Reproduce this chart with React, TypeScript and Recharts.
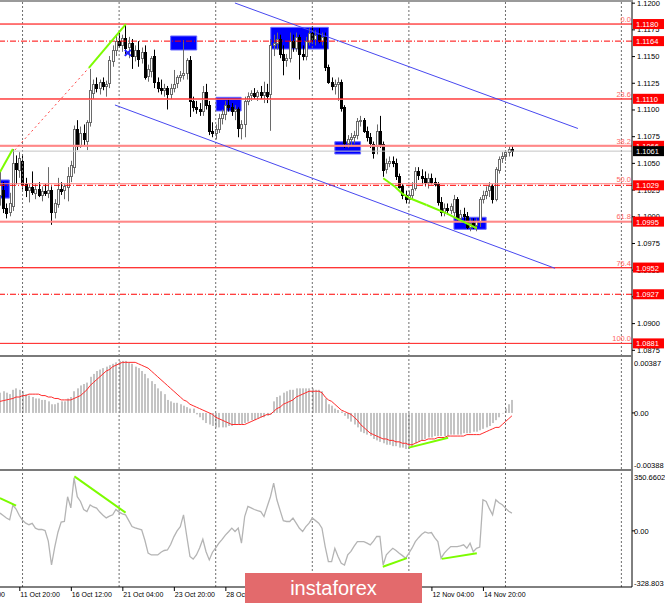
import React from 'react';
import { ComposedChart, Bar, Line, XAxis, YAxis, ReferenceLine, ReferenceArea, ReferenceDot } from 'recharts';

// ---------- price data (H4 candles) ----------
const opens = [
  1.1020,1.1025,1.1008,1.1004,1.1010,1.1050,1.1044,1.1052,1.1030,1.1024,
  1.1027,1.1022,1.1026,1.1020,1.1024,1.1022,1.1025,1.1004,1.1012,1.1026,
  1.1024,1.1028,1.1038,1.1046,1.1082,1.1066,1.1078,1.1070,1.1088,1.1116,
  1.1124,1.1120,1.1126,1.1122,1.1124,1.1146,1.1156,1.1164,1.1160,1.1167,
  1.1158,1.1162,1.1150,1.1156,1.1148,1.1154,1.1131,1.1136,1.1150,1.1126,
  1.1120,1.1118,1.1120,1.1114,1.1120,1.1124,1.1130,1.1132,1.1134,1.1146,
  1.1108,1.1102,1.1100,1.1098,1.1116,1.1104,1.1080,1.1078,1.1082,1.1092,
  1.1096,1.1104,1.1102,1.1098,1.1100,1.1082,1.1086,1.1108,1.1113,1.1115,
  1.1112,1.1116,1.1113,1.1116,1.1114,1.1160,1.1162,1.1166,1.1152,1.1146,
  1.1148,1.1164,1.1158,1.1168,1.1152,1.1150,1.1164,1.1172,1.1166,1.1170,
  1.1164,1.1168,1.1140,1.1126,1.1122,1.1124,1.1126,1.1102,1.1068,1.1072,
  1.1074,1.1076,1.1089,1.1090,1.1080,1.1074,1.1068,1.1066,1.1080,1.1068,
  1.1044,1.1050,1.1052,1.1050,1.1038,1.1028,1.1020,1.1016,1.1020,1.1026,
  1.1042,1.1038,1.1036,1.1032,1.1036,1.1032,1.1030,1.1013,1.1004,1.1008,
  1.1006,1.1004,1.1016,1.0998,1.1002,1.1000,1.0990,1.0994,1.0992,1.0994,
  1.1016,1.1020,1.1024,1.1028,1.1016,1.1044,1.1054,1.1056,1.1060,1.1063,
];
const highs = [
  1.1042,1.1032,1.1012,1.1022,1.1063,1.1057,1.1060,1.1058,1.1036,1.1030,
  1.1042,1.1030,1.1032,1.1028,1.1030,1.1046,1.1028,1.1016,1.1036,1.1032,
  1.1030,1.1046,1.1052,1.1085,1.1090,1.1084,1.1086,1.1090,1.1138,1.1128,
  1.1130,1.1128,1.1130,1.1127,1.1150,1.1160,1.1170,1.1172,1.1170,1.1180,
  1.1168,1.1166,1.1160,1.1164,1.1158,1.1160,1.1142,1.1150,1.1156,1.1130,
  1.1128,1.1124,1.1122,1.1124,1.1137,1.1132,1.1136,1.1165,1.1148,1.1150,
  1.1112,1.1108,1.1106,1.1122,1.1124,1.1108,1.1088,1.1086,1.1096,1.1100,
  1.1108,1.1110,1.1106,1.1104,1.1102,1.1090,1.1112,1.1116,1.1118,1.1120,
  1.1118,1.1122,1.1126,1.1124,1.1166,1.1170,1.1172,1.1170,1.1160,1.1152,
  1.1172,1.1170,1.1172,1.1170,1.1160,1.1168,1.1176,1.1178,1.1174,1.1176,
  1.1172,1.1172,1.1142,1.1130,1.1128,1.1130,1.1128,1.1104,1.1076,1.1078,
  1.1080,1.1092,1.1094,1.1092,1.1084,1.1078,1.1070,1.1086,1.1094,1.1070,
  1.1054,1.1056,1.1056,1.1054,1.1040,1.1030,1.1024,1.1024,1.1032,1.1046,
  1.1046,1.1044,1.1042,1.1040,1.1040,1.1036,1.1032,1.1018,1.1012,1.1012,
  1.1012,1.1020,1.1018,1.1006,1.1008,1.1004,1.0998,1.0998,1.0998,1.1018,
  1.1024,1.1028,1.1032,1.1030,1.1046,1.1056,1.1060,1.1062,1.1066,1.1066,
];
const lows = [
  1.1010,1.1003,1.0998,1.1000,1.1005,1.1030,1.1036,1.1025,1.1018,1.1013,
  1.1020,1.1016,1.1018,1.1014,1.1019,1.1017,1.0992,1.0998,1.1008,1.1020,
  1.1016,1.1014,1.1032,1.1040,1.1062,1.1064,1.1066,1.1062,1.1084,1.1110,
  1.1116,1.1114,1.1118,1.1112,1.1120,1.1140,1.1150,1.1158,1.1154,1.1152,
  1.1148,1.1138,1.1145,1.1140,1.1143,1.1128,1.1126,1.1130,1.1120,1.1116,
  1.1114,1.1112,1.1100,1.1110,1.1116,1.1120,1.1126,1.1128,1.1128,1.1093,
  1.1098,1.1096,1.1094,1.1094,1.1100,1.1076,1.1074,1.1072,1.1078,1.1086,
  1.1090,1.1098,1.1094,1.1090,1.1074,1.1072,1.1074,1.1104,1.1108,1.1110,
  1.1108,1.1110,1.1106,1.1106,1.1080,1.1150,1.1156,1.1148,1.1132,1.1140,
  1.1144,1.1154,1.1154,1.1128,1.1146,1.1146,1.1160,1.1162,1.1160,1.1162,
  1.1160,1.1136,1.1124,1.1118,1.1114,1.1108,1.1098,1.1064,1.1064,1.1066,
  1.1068,1.1072,1.1084,1.1078,1.1070,1.1064,1.1054,1.1058,1.1064,1.1037,
  1.1040,1.1046,1.1046,1.1034,1.1026,1.1016,1.1012,1.1012,1.1016,1.1024,
  1.1034,1.1030,1.1028,1.1026,1.1030,1.1028,1.1010,1.1000,1.1000,1.1002,
  1.1002,1.1000,1.0996,1.0994,1.0996,1.0988,1.0986,1.0988,1.0986,1.0990,
  1.1012,1.1016,1.1018,1.1012,1.1014,1.1040,1.1050,1.1052,1.1056,1.1056,
];
const closes = [
  1.1030,1.1008,1.1003,1.1012,1.1050,1.1044,1.1055,1.1030,1.1024,1.1027,
  1.1022,1.1026,1.1020,1.1024,1.1022,1.1025,1.1004,1.1012,1.1026,1.1024,
  1.1028,1.1038,1.1048,1.1082,1.1066,1.1078,1.1072,1.1088,1.1118,1.1124,
  1.1120,1.1126,1.1122,1.1124,1.1146,1.1156,1.1164,1.1160,1.1167,1.1158,
  1.1162,1.1150,1.1156,1.1148,1.1154,1.1131,1.1138,1.1148,1.1126,1.1120,
  1.1118,1.1120,1.1114,1.1120,1.1124,1.1130,1.1132,1.1134,1.1146,1.1108,
  1.1102,1.1100,1.1098,1.1116,1.1104,1.1080,1.1078,1.1082,1.1092,1.1096,
  1.1104,1.1102,1.1098,1.1100,1.1082,1.1086,1.1108,1.1113,1.1115,1.1112,
  1.1116,1.1113,1.1116,1.1112,1.1160,1.1162,1.1166,1.1152,1.1146,1.1148,
  1.1164,1.1158,1.1168,1.1152,1.1150,1.1164,1.1172,1.1166,1.1170,1.1164,
  1.1168,1.1140,1.1126,1.1122,1.1124,1.1126,1.1102,1.1068,1.1072,1.1074,
  1.1076,1.1089,1.1090,1.1080,1.1074,1.1068,1.1060,1.1080,1.1068,1.1044,
  1.1050,1.1052,1.1050,1.1038,1.1028,1.1020,1.1016,1.1020,1.1026,1.1042,
  1.1038,1.1036,1.1032,1.1036,1.1032,1.1030,1.1013,1.1004,1.1008,1.1006,
  1.1010,1.1016,1.0998,1.1002,1.1000,1.0990,1.0994,1.0992,1.0996,1.1016,
  1.1020,1.1024,1.1028,1.1016,1.1044,1.1054,1.1056,1.1060,1.1063,1.1061,
];

// ---------- MACD ----------
const macdMain = [
  0.0014,0.0015,0.0014,0.0013,0.0016,0.0017,0.0016,0.0015,0.0013,0.0012,
  0.0011,0.0010,0.0010,0.0009,0.0009,0.0008,0.0006,0.0006,0.0007,0.0008,
  0.0008,0.0010,0.0011,0.0015,0.0017,0.0019,0.0020,0.0021,0.0025,0.0027,
  0.0029,0.0030,0.0031,0.0032,0.0033,0.0034,0.0035,0.0036,0.0036,0.0036,
  0.0035,0.0034,0.0032,0.0031,0.0029,0.0027,0.0024,0.0022,0.0020,0.0017,
  0.0015,0.0013,0.0009,0.0008,0.0007,0.0007,0.0006,0.0005,0.0004,0.0003,
  0.0003,-0.0001,-0.0003,-0.0005,-0.0007,-0.0008,-0.0009,-0.0010,-0.0010,-0.0010,
  -0.0010,-0.0009,-0.0009,-0.0008,-0.0008,-0.0008,-0.0007,-0.0006,-0.0005,-0.0005,
  -0.0004,-0.0003,-0.0003,-0.0002,-0.0001,0.0008,0.0011,0.0012,0.0014,0.0015,
  0.0016,0.0016,0.0017,0.0017,0.0017,0.0017,0.0017,0.0017,0.0016,0.0016,
  0.0015,0.0010,0.0006,0.0005,0.0003,0.0002,0.0001,-0.0002,-0.0004,-0.0006,
  -0.0008,-0.0010,-0.0013,-0.0014,-0.0015,-0.0016,-0.0018,-0.0019,-0.0020,-0.0021,
  -0.0022,-0.0022,-0.0023,-0.0023,-0.0024,-0.0024,-0.0025,-0.0025,-0.0023,-0.0021,
  -0.0020,-0.0019,-0.0018,-0.0017,-0.0017,-0.0016,-0.0016,-0.0016,-0.0016,-0.0016,
  -0.0015,-0.0015,-0.0015,-0.0015,-0.0014,-0.0014,-0.0014,-0.0013,-0.0013,-0.0012,
  -0.0011,-0.0010,-0.0009,-0.0007,-0.0005,-0.0003,0.0000,0.0003,0.0006,0.0009,
];
const macdSignal = [
  0.0008,0.00085,0.0009,0.00095,0.0010,0.0011,0.0011,0.0012,0.0012,0.0013,
  0.0013,0.0013,0.0013,0.0012,0.0012,0.0011,0.0011,0.0010,0.0010,0.0009,
  0.0009,0.0009,0.0009,0.0010,0.0011,0.0012,0.0014,0.0016,0.0019,0.0021,
  0.0023,0.0025,0.0027,0.0029,0.0030,0.0032,0.0033,0.0034,0.0035,0.0035,
  0.0035,0.0035,0.0035,0.0034,0.0033,0.0032,0.0031,0.0029,0.0027,0.0025,
  0.0023,0.0021,0.0019,0.0017,0.0015,0.0013,0.0011,0.0009,0.0008,0.0006,
  0.0005,0.0004,0.0003,0.0002,0.0001,0.0000,-0.0001,-0.0003,-0.0004,-0.0005,
  -0.0006,-0.0007,-0.0008,-0.0008,-0.0008,-0.0008,-0.0008,-0.0007,-0.0006,-0.0005,
  -0.0004,-0.0003,-0.0002,-0.0001,-0.0001,0.0001,0.0003,0.0004,0.0006,0.0007,
  0.0008,0.0009,0.0011,0.0012,0.0013,0.0014,0.0015,0.0015,0.0015,0.0015,
  0.0014,0.0011,0.0009,0.0008,0.0006,0.0004,0.0002,0.0001,0.0000,-0.0001,
  -0.0003,-0.0005,-0.0008,-0.0010,-0.0012,-0.0014,-0.0015,-0.0016,-0.0017,-0.0018,
  -0.0018,-0.0019,-0.0019,-0.0020,-0.0020,-0.0021,-0.0021,-0.0022,-0.0022,-0.0021,
  -0.0020,-0.0019,-0.0019,-0.0018,-0.0018,-0.0018,-0.0017,-0.0017,-0.0017,-0.0016,
  -0.0016,-0.0016,-0.0016,-0.0016,-0.0016,-0.0015,-0.0015,-0.0015,-0.0015,-0.0015,
  -0.0014,-0.0013,-0.0012,-0.0011,-0.0010,-0.0010,-0.0008,-0.0006,-0.0004,-0.0002,
];

// ---------- CCI ----------
const cciValues = [
  104,90,75,65,150,128,90,62,45,36,
  44,16,8,9,2,-60,-200,-95,-8,52,
  55,200,135,310,200,172,125,113,152,140,
  133,110,92,76,86,94,125,110,100,94,
  60,25,18,12,6,-55,-130,-141,-141,-141,
  -125,-115,-112,-80,-35,0,25,94,-30,-150,
  -165,-141,-100,-49,-122,-170,-125,-100,-72,-50,
  -25,-5,16,-4,16,-72,84,143,135,125,
  118,113,84,143,200,280,182,120,60,55,
  55,75,45,15,-4,25,45,75,60,45,
  16,-92,-180,-180,-102,-150,-190,-200,-141,-120,
  -90,-63,-63,-63,-72,-82,-60,-33,-33,-200,
  -140,-120,-102,-115,-131,-145,-160,-131,-100,-63,
  -40,-20,-6,-13,-10,-40,-63,-160,-130,-110,
  -92,-92,-92,-88,-82,-102,-72,-122,-102,-95,
  182,172,130,94,182,165,153,133,115,104,
];

// ---------- axes / labels ----------
const timeTickBars = [-10, 6, 22, 38, 54, 70, 86, 102, 118, 134, 150];
const timeTickLabels = ['9 Oct 04:00', '11 Oct 20:00', '16 Oct 12:00', '21 Oct 04:00', '23 Oct 20:00', '28 Oct 12:00', '31 Oct 04:00', '4 Nov 20:00', '7 Nov 12:00', '12 Nov 04:00', '14 Nov 20:00'];
const gridBars = [7, 37, 67, 97, 127, 157, 193];
const priceTicks = [1.0875, 1.09, 1.0925, 1.095, 1.0975, 1.1, 1.1025, 1.105, 1.1075, 1.11, 1.1125, 1.115, 1.1175, 1.12];
const levelPrices = [1.1180, 1.1164, 1.1110, 1.1066, 1.1029, 1.0995, 1.0952, 1.0927, 1.0881];
const dashDotLevels = [1.1164, 1.1029, 1.0927];
const bidPrice = 1.1061;
const fibHigh = 1.1180;
const fibLow = 1.0881;
const fibRatios = [0, 23.6, 38.2, 50.0, 61.8, 76.4, 100.0];
const macdTickValues = [0.00387, 0, -0.00388];
const macdTickLabels = ['0.00387', '0.00', '-0.00388'];
const cciTickValues = [350.6602, 0, -328.803];
const cciTickLabels = ['350.6602', '0.00', '-328.803'];

// zones (bar index range, price range)
const zoneBars = [[0, 2.9], [53.0, 61.1], [67.1, 74.9], [84.1, 102.0], [104.0, 112.0], [141.0, 151.0]];
const zonePrices = [[1.1017, 1.1034], [1.11557, 1.11688], [1.10986, 1.11114], [1.11566, 1.11769], [1.10583, 1.10698], [1.09878, 1.09991]];
const crossMark = { bar: 39.7, price: 1.1153 };

// drawn lines as point lists (bar index, value)
const channelUpper = [{ x: 72.97, y: 1.11997 }, { x: 179.5, y: 1.10822 }];
const channelLower = [{ x: 35.7, y: 1.11042 }, { x: 172.4, y: 1.09513 }];
const fiboTrend = [{ x: 4.6, y: 1.1062 }, { x: 27.6, y: 1.1139 }];
const greenMain1 = [{ x: 0, y: 1.10415 }, { x: 4.0, y: 1.1063 }];
const greenMain2 = [{ x: 27.6, y: 1.1139 }, { x: 39.1, y: 1.1180 }];
const greenMain3 = [
  { x: 119.05, y: 1.10356 }, { x: 122.7, y: 1.10277 }, { x: 124.8, y: 1.10215 }, { x: 127.3, y: 1.10169 },
  { x: 132.5, y: 1.10106 }, { x: 138.7, y: 1.10028 }, { x: 142.9, y: 1.09965 }, { x: 148.1, y: 1.09888 },
];
const greenMacd = [{ x: 127, y: -0.0024 }, { x: 139.2, y: -0.00172 }];
const greenCci = [
  [{ x: 0, y: 192 }, { x: 5, y: 148 }],
  [{ x: 23.1, y: 319 }, { x: 39, y: 107 }],
  [{ x: 118.9, y: -210 }, { x: 126.4, y: -160 }],
  [{ x: 137.2, y: -164 }, { x: 148.1, y: -131 }],
];

const data = opens.map((o, i) => ({
  i, o, h: highs[i], l: lows[i], c: closes[i],
  hist: macdMain[i], sig: macdSignal[i], cci: cciValues[i],
}));

const FONT = '"Liberation Sans", Arial, sans-serif';
const X_DOMAIN: [number, number] = [0, 196.3];
const W = 665;
const GREEN = '#7cfc00';
const GRID = '#6e6e6e';

const Candle = (p: any) => {
  const { x, y, width, height, payload } = p;
  if (payload == null || y == null) return null;
  const { o, h, l, c } = payload;
  const px = Math.round(x + width / 2);
  const span = h - l;
  const ppu = span > 0 ? height / span : 0;
  const yO = y + (h - o) * ppu;
  const yC = y + (h - c) * ppu;
  const bull = c >= o;
  const top = Math.round(Math.min(yO, yC)) + 0.5;
  const bh = Math.max(1, Math.round(Math.abs(yC - yO)));
  const col = bull ? '#6a6a6a' : '#000';
  return (
    <g>
      <line x1={px + 0.5} x2={px + 0.5} y1={y} y2={y + height} stroke={col} strokeWidth={1} />
      <rect x={px - 0.5} y={top} width={2} height={bh} fill={bull ? '#fff' : '#000'} stroke={col} strokeWidth={1} />
    </g>
  );
};

const HistBar = (p: any) => {
  const { x, y, width, height } = p;
  if (y == null || height == null) return null;
  const px = Math.round(x + width / 2);
  const top = Math.min(y, y + height);
  return <rect x={px - 1} y={top} width={2} height={Math.max(0.5, Math.abs(height))} fill="#c4c4c4" />;
};

const PriceTick = (p: any) => {
  const { x, y, payload } = p;
  const v = payload.value;
  const isLevel = levelPrices.indexOf(v) >= 0;
  const isBid = v === bidPrice;
  if (isLevel || isBid) {
    return (
      <g>
        <rect x={x + 1} y={y - 5} width={31} height={10} fill={isBid ? '#000' : '#ff0000'} />
        <text x={x + 4} y={y + 3} fill="#fff" fontSize={7.5} fontFamily={FONT}>{v.toFixed(4)}</text>
      </g>
    );
  }
  return (
    <g>
      <line x1={x} x2={x + 3} y1={y + 0.5} y2={y + 0.5} stroke="#000" />
      <text x={x + 5} y={y + 3} fill="#000" fontSize={7.5} fontFamily={FONT}>{v.toFixed(4)}</text>
    </g>
  );
};

const makeSideTick = (values: number[], labels: string[]) => (p: any) => {
  const { x, y, payload } = p;
  const idx = values.indexOf(payload.value);
  const dy = idx === 0 ? 9 : idx === values.length - 1 ? -1 : 3;
  return (
    <g>
      {idx === 1 ? <line x1={x} x2={x + 3} y1={y} y2={y} stroke="#000" /> : null}
      <text x={x + 2} y={y + dy} fill="#000" fontSize={7.5} fontFamily={FONT}>{labels[idx]}</text>
    </g>
  );
};

const TimeTick = (p: any) => {
  const { x, y, payload } = p;
  const idx = timeTickBars.indexOf(payload.value);
  return (
    <g>
      <line x1={x + 0.5} x2={x + 0.5} y1={y} y2={y + 4} stroke="#000" />
      <text x={x + 1} y={y + 10} fill="#000" fontSize={7} fontFamily={FONT}>{timeTickLabels[idx]}</text>
    </g>
  );
};

const fibLabel = (text: string) => (p: any) => {
  const vb = p.viewBox || {};
  return (
    <text x={vb.x + vb.width - 1} y={vb.y - 2} textAnchor="end" fill="#ff6464" fontSize={7.5} fontFamily={FONT}>{text}</text>
  );
};

const segs = (pts: { x: number; y: number }[]) =>
  pts.slice(1).map((pt, k) => [pts[k], pt] as [{ x: number; y: number }, { x: number; y: number }]);

const gridLines = () =>
  gridBars.map((b) => (
    <ReferenceLine key={'g' + b} x={b} stroke={GRID} strokeDasharray="2 2" ifOverflow="visible" />
  ));

const levelStyle = (v: number) => {
  if (dashDotLevels.indexOf(v) >= 0) return { stroke: '#ff0000', width: 1, dash: '6 2 1 2' };
  if (v === 1.1066 || v === 1.0995) return { stroke: '#ff8888', width: 2, dash: undefined };
  return { stroke: '#ff3030', width: 1, dash: undefined };
};

export default function App() {
  return (
    <div style={{ position: 'absolute', left: 0, top: 0, width: W, height: 604, background: '#fff', overflow: 'hidden', fontFamily: FONT }}>
      {/* main price panel */}
      <div style={{ position: 'absolute', left: 0, top: 0 }}>
        <ComposedChart width={W} height={356} data={data} margin={{ top: 0, right: 0, bottom: 0, left: 0 }}>
          <XAxis type="number" dataKey="i" domain={X_DOMAIN} allowDataOverflow hide />
          <YAxis
            orientation="right" width={33} type="number" domain={[1.08692, 1.12025]} allowDataOverflow
            ticks={[...priceTicks, ...levelPrices, bidPrice]} interval={0}
            tick={<PriceTick />} tickLine={false} tickSize={0} tickMargin={0}
            axisLine={{ stroke: '#000' }}
          />
          {gridLines()}
          {zoneBars.map((zb, k) => (
            <ReferenceArea key={'z' + k} x1={zb[0]} x2={zb[1]} y1={zonePrices[k][0]} y2={zonePrices[k][1]}
              fill="#0000ff" fillOpacity={1} stroke="#6a6aff" strokeWidth={1} ifOverflow="visible" />
          ))}
          {fibRatios.map((r) => (
            <ReferenceLine key={'f' + r} y={fibHigh - (r / 100) * (fibHigh - fibLow)} stroke="#ff8080" strokeWidth={1}
              label={fibLabel(r.toFixed(1))} ifOverflow="visible" />
          ))}
          {levelPrices.map((v) => {
            const s = levelStyle(v);
            return <ReferenceLine key={'l' + v} y={v} stroke={s.stroke} strokeWidth={s.width} strokeDasharray={s.dash} ifOverflow="visible" />;
          })}
          <ReferenceLine y={bidPrice} stroke="#c4c4c4" strokeWidth={1} ifOverflow="visible" />
          <ReferenceLine segment={channelUpper} stroke="#4848f0" strokeWidth={1} ifOverflow="visible" />
          <ReferenceLine segment={channelLower} stroke="#4848f0" strokeWidth={1} ifOverflow="visible" />
          <ReferenceLine segment={fiboTrend} stroke="#ff4040" strokeWidth={1} strokeDasharray="2 3" ifOverflow="visible" />
          <ReferenceLine segment={greenMain1} stroke={GREEN} strokeWidth={2} ifOverflow="visible" />
          <ReferenceLine segment={greenMain2} stroke={GREEN} strokeWidth={2} ifOverflow="visible" />
          <Bar dataKey={(d: any) => [d.l, d.h]} barSize={3} shape={(p: any) => <Candle {...p} />} isAnimationActive={false} />
          {segs(greenMain3).map((s, k) => (
            <ReferenceLine key={'gm' + k} segment={s} stroke={GREEN} strokeWidth={2} ifOverflow="visible" />
          ))}
          <ReferenceDot x={crossMark.bar} y={crossMark.price} r={3} ifOverflow="visible"
            shape={(p: any) => (
              <g stroke="#2020ff" strokeWidth={2}>
                <line x1={p.cx - 3} y1={p.cy - 3} x2={p.cx + 3} y2={p.cy + 3} />
                <line x1={p.cx - 3} y1={p.cy + 3} x2={p.cx + 3} y2={p.cy - 3} />
              </g>
            )} />
        </ComposedChart>
      </div>

      {/* MACD panel */}
      <div style={{ position: 'absolute', left: 0, top: 357 }}>
        <ComposedChart width={W} height={112} data={data} margin={{ top: 0, right: 0, bottom: 0, left: 0 }}>
          <XAxis type="number" dataKey="i" domain={X_DOMAIN} allowDataOverflow hide />
          <YAxis orientation="right" width={33} type="number" domain={[-0.00388, 0.00387]} allowDataOverflow
            ticks={macdTickValues} interval={0} tick={makeSideTick(macdTickValues, macdTickLabels)}
            tickLine={false} tickSize={0} tickMargin={0} axisLine={{ stroke: '#000' }} />
          {gridLines()}
          <Bar dataKey="hist" barSize={2} shape={(p: any) => <HistBar {...p} />} isAnimationActive={false} />
          <Line dataKey="sig" type="linear" stroke="#ff2a2a" strokeWidth={1} dot={false} isAnimationActive={false} />
          <ReferenceLine segment={greenMacd} stroke={GREEN} strokeWidth={2} ifOverflow="visible" />
        </ComposedChart>
      </div>

      {/* CCI panel */}
      <div style={{ position: 'absolute', left: 0, top: 471 }}>
        <ComposedChart width={W} height={133} data={data} margin={{ top: 0, right: 0, bottom: 0, left: 0 }}>
          <XAxis type="number" dataKey="i" domain={X_DOMAIN} allowDataOverflow height={17}
            ticks={timeTickBars} interval={0} tick={<TimeTick />} tickLine={false} tickSize={0} tickMargin={0}
            axisLine={{ stroke: '#000' }} />
          <YAxis orientation="right" width={33} type="number" domain={[-328.803, 350.6602]} allowDataOverflow
            ticks={cciTickValues} interval={0} tick={makeSideTick(cciTickValues, cciTickLabels)}
            tickLine={false} tickSize={0} tickMargin={0} axisLine={{ stroke: '#000' }} />
          {gridLines()}
          <Line dataKey="cci" type="linear" stroke="#b4b4b4" strokeWidth={1.3} dot={false} isAnimationActive={false} />
          {greenCci.map((s, k) => (
            <ReferenceLine key={'gc' + k} segment={s} stroke={GREEN} strokeWidth={2} ifOverflow="visible" />
          ))}
        </ComposedChart>
      </div>

      {/* panel borders */}
      <div style={{ position: 'absolute', left: 0, top: 0, width: 633, height: 2, background: '#9a9a9a' }} />
      <div style={{ position: 'absolute', left: 0, top: 355, width: 633, height: 2, background: '#7a7a7a' }} />
      <div style={{ position: 'absolute', left: 0, top: 469, width: 633, height: 2, background: '#7a7a7a' }} />

      {/* watermark */}
      <div style={{ position: 'absolute', left: 245, top: 573, width: 177, height: 30, background: '#e36a6c', color: '#fff',
        fontFamily: FONT, fontSize: 20, lineHeight: '30px', textAlign: 'center' }}>instaforex</div>
    </div>
  );
}
